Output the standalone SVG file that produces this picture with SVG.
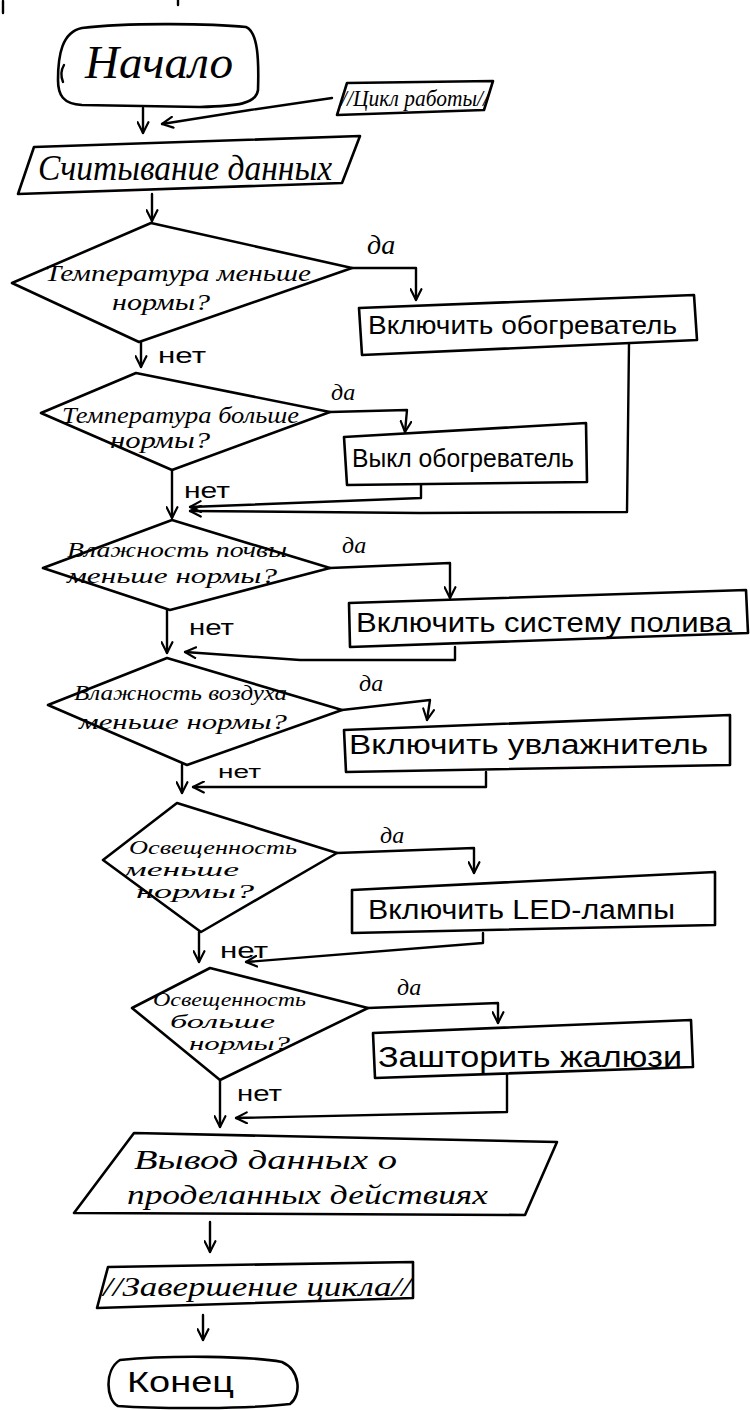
<svg xmlns="http://www.w3.org/2000/svg" width="750" height="1410" viewBox="0 0 750 1410">
<style>
.s{fill:#fff;stroke:#000;stroke-width:2.6;stroke-linejoin:round;stroke-linecap:round}
.c{fill:none;stroke:#000;stroke-width:2.4;stroke-linejoin:round;stroke-linecap:round}
.cur{font-family:"Liberation Serif","DejaVu Serif",serif;font-style:italic;fill:#000}
.pr{font-family:"Liberation Sans","DejaVu Sans",sans-serif;fill:#000}
</style>
<defs>
<marker id="ah" viewBox="0 0 12 12" refX="11" refY="6" markerWidth="13" markerHeight="13" markerUnits="userSpaceOnUse" orient="auto">
<path d="M1,1 L11,6 L1,11" fill="none" stroke="#000" stroke-width="2" stroke-linejoin="round" stroke-linecap="round"/>
</marker>
</defs>
<rect width="750" height="1410" fill="#fff"/>
<path class="c" d="M3,1 L3,13 M178,0 L178,5"/>

<g id="connectors">
<path class="c" d="M143,108 L143,133" marker-end="url(#ah)"/>
<path class="c" d="M332,98 L250,110 L162,124" marker-end="url(#ah)"/>
<path class="c" d="M152,194 L152,221" marker-end="url(#ah)"/>
<path class="c" d="M352,268 L416,268 L416,300" marker-end="url(#ah)"/>
<path class="c" d="M141,342 L141,367" marker-end="url(#ah)"/>
<path class="c" d="M629,343 L627,512 L420,513 L190,511" marker-end="url(#ah)"/>
<path class="c" d="M330,412 L407,410 L405,432" marker-end="url(#ah)"/>
<path class="c" d="M421,485 L421,498 L190,507" marker-end="url(#ah)"/>
<path class="c" d="M172,470 L172,518" marker-end="url(#ah)"/>
<path class="c" d="M330,568 L450,563 L450,598" marker-end="url(#ah)"/>
<path class="c" d="M455,647 L455,660 L300,660 L185,652" marker-end="url(#ah)"/>
<path class="c" d="M167,610 L167,653" marker-end="url(#ah)"/>
<path class="c" d="M342,710 L430,700 L427,720" marker-end="url(#ah)"/>
<path class="c" d="M486,772 L486,787 L193,787" marker-end="url(#ah)"/>
<path class="c" d="M182,765 L182,793" marker-end="url(#ah)"/>
<path class="c" d="M337,853 L474,848 L474,873" marker-end="url(#ah)"/>
<path class="c" d="M483,933 L483,943 L246,962" marker-end="url(#ah)"/>
<path class="c" d="M199,932 L199,962" marker-end="url(#ah)"/>
<path class="c" d="M368,1008 L498,1003 L498,1023" marker-end="url(#ah)"/>
<path class="c" d="M507,1075 L507,1112 L236,1118" marker-end="url(#ah)"/>
<path class="c" d="M220,1080 L220,1127" marker-end="url(#ah)"/>
<path class="c" d="M210,1222 L210,1252" marker-end="url(#ah)"/>
<path class="c" d="M203,1315 L203,1340" marker-end="url(#ah)"/>
</g>

<g id="start">
<path class="s" d="M82,28 C130,22 215,24 246,27 C258,32 259,60 258,90 C256,104 238,106 200,107 L82,105 C63,104 58,95 58,80 C58,55 62,32 82,28 Z"/>
<path class="c" d="M64,65 C61,70 61,77 63,82"/>
<text class="cur" x="85" y="78" font-size="46" textLength="148" lengthAdjust="spacingAndGlyphs">Начало</text>
</g>

<g id="loop-start">
<path class="s" d="M347,83 L493,81 L484,110 L337,115 Z"/>
<text class="cur" x="341" y="106" font-size="24" textLength="148" lengthAdjust="spacingAndGlyphs">//Цикл работы//</text>
</g>

<g id="read">
<path class="s" d="M34,147 L360,136 L342,183 L18,194 Z"/>
<text class="cur" x="38" y="180" font-size="36" textLength="294" lengthAdjust="spacingAndGlyphs">Считывание данных</text>
</g>

<g id="d1">
<path class="s" d="M12,283 L151,223 L352,268 L139,342 Z"/>
<text class="cur" x="45" y="281" font-size="24" textLength="266" lengthAdjust="spacingAndGlyphs">Температура меньше</text>
<text class="cur" x="112" y="310" font-size="24" textLength="98" lengthAdjust="spacingAndGlyphs">нормы?</text>
</g>
<text class="cur" x="367" y="254" font-size="28">да</text>
<text class="pr" x="158" y="363" font-size="22" textLength="48" lengthAdjust="spacingAndGlyphs">нет</text>

<g id="heater-on">
<path class="s" d="M359,308 L694,295 L697,340 L362,355 Z"/>
<text class="pr" x="368" y="334" font-size="25" textLength="309" lengthAdjust="spacingAndGlyphs">Включить обогреватель</text>
</g>

<g id="d2">
<path class="s" d="M41,413 L136,373 L330,412 L172,470 Z"/>
<text class="cur" x="62" y="423" font-size="23" textLength="237" lengthAdjust="spacingAndGlyphs">Температура больше</text>
<text class="cur" x="110" y="448" font-size="23" textLength="100" lengthAdjust="spacingAndGlyphs">нормы?</text>
</g>
<text class="cur" x="331" y="400" font-size="24">да</text>
<text class="pr" x="184" y="498" font-size="22" textLength="46" lengthAdjust="spacingAndGlyphs">нет</text>

<g id="heater-off">
<path class="s" d="M344,437 L586,423 L587,482 L347,485 Z"/>
<text class="pr" x="352" y="467" font-size="25" textLength="222" lengthAdjust="spacingAndGlyphs">Выкл обогреватель</text>
</g>

<g id="d3">
<path class="s" d="M43,568 L172,520 L330,568 L170,610 Z"/>
<text class="cur" x="67" y="557" font-size="22" textLength="220" lengthAdjust="spacingAndGlyphs">Влажность почвы</text>
<text class="cur" x="67" y="583" font-size="22" textLength="210" lengthAdjust="spacingAndGlyphs">меньше нормы?</text>
</g>
<text class="cur" x="342" y="553" font-size="24">да</text>
<text class="pr" x="189" y="635" font-size="22" textLength="45" lengthAdjust="spacingAndGlyphs">нет</text>

<g id="watering">
<path class="s" d="M349,603 L746,590 L748,633 L350,647 Z"/>
<text class="pr" x="356" y="632" font-size="27" textLength="376" lengthAdjust="spacingAndGlyphs">Включить систему полива</text>
</g>

<g id="d4">
<path class="s" d="M48,705 L167,658 L342,710 L187,765 Z"/>
<text class="cur" x="74" y="700" font-size="22" textLength="213" lengthAdjust="spacingAndGlyphs">Влажность воздуха</text>
<text class="cur" x="79" y="729" font-size="22" textLength="208" lengthAdjust="spacingAndGlyphs">меньше нормы?</text>
</g>
<text class="cur" x="359" y="691" font-size="24">да</text>
<text class="pr" x="218" y="778" font-size="18" textLength="43" lengthAdjust="spacingAndGlyphs">нет</text>

<g id="humidifier">
<path class="s" d="M344,730 L730,715 L730,765 L346,772 Z"/>
<text class="pr" x="349" y="754" font-size="27" textLength="359" lengthAdjust="spacingAndGlyphs">Включить увлажнитель</text>
</g>

<g id="d5">
<path class="s" d="M103,860 L177,803 L337,853 L201,932 Z"/>
<text class="cur" x="129" y="854" font-size="19" textLength="168" lengthAdjust="spacingAndGlyphs">Освещенность</text>
<text class="cur" x="124" y="876" font-size="19" textLength="115" lengthAdjust="spacingAndGlyphs">меньше</text>
<text class="cur" x="136" y="898" font-size="19" textLength="118" lengthAdjust="spacingAndGlyphs">нормы?</text>
</g>
<text class="cur" x="380" y="843" font-size="24">да</text>
<text class="pr" x="220" y="958" font-size="22" textLength="48" lengthAdjust="spacingAndGlyphs">нет</text>

<g id="led">
<path class="s" d="M352,890 L715,872 L715,925 L352,933 Z"/>
<text class="pr" x="368" y="919" font-size="27" textLength="307" lengthAdjust="spacingAndGlyphs">Включить LED-лампы</text>
</g>

<g id="d6">
<path class="s" d="M132,1008 L210,968 L368,1008 L220,1080 Z"/>
<text class="cur" x="153" y="1006" font-size="19" textLength="153" lengthAdjust="spacingAndGlyphs">Освещенность</text>
<text class="cur" x="170" y="1028" font-size="19" textLength="105" lengthAdjust="spacingAndGlyphs">больше</text>
<text class="cur" x="189" y="1050" font-size="19" textLength="101" lengthAdjust="spacingAndGlyphs">нормы?</text>
</g>
<text class="cur" x="397" y="995" font-size="24">да</text>
<text class="pr" x="237" y="1101" font-size="22" textLength="45" lengthAdjust="spacingAndGlyphs">нет</text>

<g id="blinds">
<path class="s" d="M373,1033 L691,1020 L693,1067 L375,1078 Z"/>
<text class="pr" x="378" y="1067" font-size="29" textLength="304" lengthAdjust="spacingAndGlyphs">Зашторить жалюзи</text>
</g>

<g id="output">
<path class="s" d="M134,1133 L557,1142 L525,1215 L74,1213 Z"/>
<text class="cur" x="134" y="1169" font-size="27" textLength="263" lengthAdjust="spacingAndGlyphs">Вывод данных о</text>
<text class="cur" x="127" y="1204" font-size="27" textLength="361" lengthAdjust="spacingAndGlyphs">проделанных действиях</text>
</g>

<g id="loop-end">
<path class="s" d="M108,1267 L413,1262 L413,1298 L97,1308 Z"/>
<text class="cur" x="103" y="1296" font-size="27" textLength="308" lengthAdjust="spacingAndGlyphs">//Завершение цикла//</text>
</g>

<g id="end">
<path class="s" d="M120,1360 C170,1355 250,1356 282,1362 C300,1370 302,1395 290,1404 C250,1409 160,1409 118,1406 C106,1400 104,1370 120,1360 Z"/>
<text class="pr" x="127" y="1392" font-size="29" textLength="107" lengthAdjust="spacingAndGlyphs">Конец</text>
</g>
</svg>
